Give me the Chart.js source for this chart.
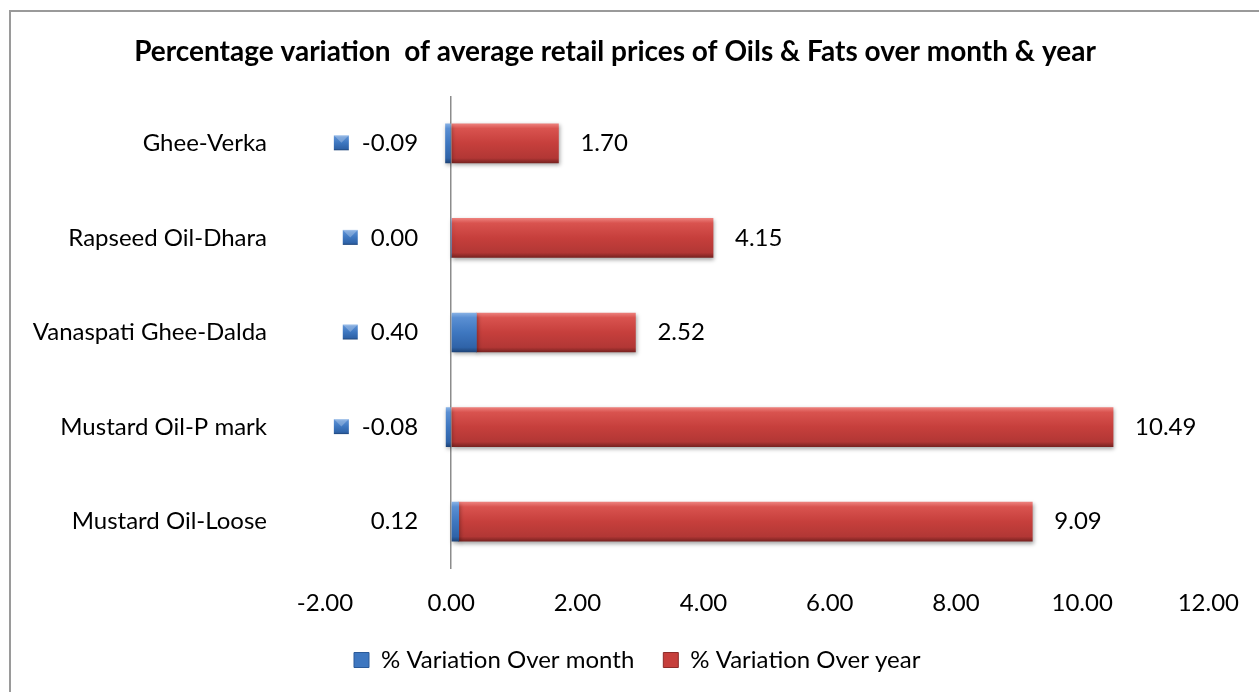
<!DOCTYPE html>
<html><head><meta charset="utf-8">
<script src="https://cdn.jsdelivr.net/npm/chart.js@4.4.1/dist/chart.umd.min.js"></script>
<style>
html,body{margin:0;padding:0;background:#fff;overflow:hidden}
#wrap{position:relative;width:1259px;height:692px}
#frame{position:absolute;left:9px;top:10px;width:1300px;height:800px;border-top:2px solid #9a9a9a;border-left:2px solid #9a9a9a}
canvas{position:absolute;left:0;top:0}
</style></head><body>
<div id="wrap"><div id="frame"></div><canvas id="c" width="1259" height="692"></canvas></div>
<script>
// ---- data ----
const categories = ['Ghee-Verka', 'Rapseed Oil-Dhara', 'Vanaspati Ghee-Dalda', 'Mustard Oil-P mark', 'Mustard Oil-Loose'];
const monthVariation = [-0.09, 0.00, 0.40, -0.08, 0.12];
const yearVariation = [1.70, 4.15, 2.52, 10.49, 9.09];
const seriesNames = ['% Variation Over month', '% Variation Over year'];
const axisMin = -2, axisMax = 12, axisStep = 2;
const titleText = 'Percentage variation  of average retail prices of Oils & Fats over month & year';

// ---- styles ----
const FONT = 'Lato';
const blueStops = [[0,'#86B0E4'],[0.12,'#5A8FD3'],[0.5,'#3E77C0'],[0.88,'#2F63A8'],[1,'#1E4478']];
const redStops = [[0,'#EC7F7B'],[0.12,'#D9534F'],[0.5,'#C63F3C'],[0.88,'#B23735'],[1,'#7A2321']];
const showMonthKey = [true, true, true, true, false];
const BAR_H = 39;

function barGradient(stops, flat){
  return function(ctx){
    const chart = ctx.chart;
    if (ctx.type !== 'data' || !chart.chartArea || !chart.scales.y) return flat;
    const yc = chart.scales.y.getPixelForValue(ctx.dataIndex);
    const g = chart.ctx.createLinearGradient(0, yc - BAR_H/2, 0, yc + BAR_H/2);
    stops.forEach(s => g.addColorStop(s[0], s[1]));
    return g;
  };
}

function drawKey(ctx, x, y, stops){
  const g = ctx.createLinearGradient(0, y, 0, y + 15);
  stops.forEach(s => g.addColorStop(s[0], s[1]));
  ctx.fillStyle = g;
  ctx.fillRect(x, y, 15, 15);
  ctx.fillStyle = 'rgba(255,255,255,0.25)';
  ctx.beginPath(); ctx.moveTo(x, y); ctx.lineTo(x + 15, y); ctx.lineTo(x + 7.5, y + 7.5); ctx.closePath(); ctx.fill();
}

const shadowPlugin = {
  id: 'barShadow',
  beforeDatasetsDraw(chart){
    const c = chart.ctx; c.save();
    c.shadowColor = 'rgba(0,0,0,0.35)'; c.shadowBlur = 4; c.shadowOffsetX = 1; c.shadowOffsetY = 2;
  },
  afterDatasetsDraw(chart){ chart.ctx.restore(); }
};

const labelPlugin = {
  id: 'valueLabels',
  afterDraw(chart){
    const c = chart.ctx, xs = chart.scales.x, ys = chart.scales.y;
    c.save();
    // title
    c.font = 'bold 28px ' + FONT; c.fillStyle = '#000'; c.textAlign = 'center'; c.textBaseline = 'middle';
    c.fillText(titleText, 615, 52);
    c.font = '24px ' + FONT;
    const metaYear = chart.getDatasetMeta(1);
    metaYear.data.forEach((bar, i) => {
      c.textAlign = 'left'; c.fillStyle = '#000';
      c.fillText(yearVariation[i].toFixed(2), bar.x + 22, bar.y);
    });
    monthVariation.forEach((v, i) => {
      const yc = ys.getPixelForValue(i);
      const tx = xs.getPixelForValue(0) - 33;
      const txt = v.toFixed(2);
      c.textAlign = 'right'; c.fillStyle = '#000';
      c.fillText(txt, tx, yc);
      if (showMonthKey[i]) {
        const w = c.measureText(txt).width;
        drawKey(c, tx - w - 13 - 15, yc - 8, blueStops);
      }
    });
    c.restore();
  }
};

new Chart(document.getElementById('c'), {
  type: 'bar',
  data: {
    labels: categories,
    datasets: [
      { label: seriesNames[0], data: monthVariation, backgroundColor: barGradient(blueStops, '#3E77C0'), borderWidth: 0, barThickness: BAR_H },
      { label: seriesNames[1], data: yearVariation, backgroundColor: barGradient(redStops, '#C63F3C'), borderWidth: 0, barThickness: BAR_H }
    ]
  },
  options: {
    indexAxis: 'y',
    responsive: false,
    animation: false,
    devicePixelRatio: 1,
    layout: { padding: { left: 10, right: 50, top: 96, bottom: 10 } },
    scales: {
      x: {
        stacked: true, min: axisMin, max: axisMax,
        border: { display: false },
        grid: {
          drawTicks: false,
          color: ctx => (ctx.tick && ctx.tick.value === 0) ? '#8c8c8c' : 'rgba(0,0,0,0)',
          lineWidth: 1.5
        },
        ticks: { stepSize: axisStep, padding: 20, color: '#000', font: { family: FONT, size: 24 }, callback: v => Number(v).toFixed(2), maxRotation: 0 },
        afterFit: s => { s.height = 50; }
      },
      y: {
        stacked: true,
        border: { display: false },
        grid: { display: false, drawTicks: false },
        ticks: { padding: 58, color: '#000', font: { family: FONT, size: 24 } },
        afterFit: s => { s.width = 315; }
      }
    },
    plugins: {
      title: { display: false },
      tooltip: { enabled: false },
      legend: {
        position: 'bottom',
        fullSize: false,
        align: 'start',
        labels: {
          boxWidth: 15, boxHeight: 15, padding: 29, color: '#000',
          font: { family: FONT, size: 24 },
          generateLabels: chart => chart.data.datasets.map((d, i) => ({
            text: d.label, fillStyle: i === 0 ? '#3E77C0' : '#C63F3C', strokeStyle: i === 0 ? '#2A5A99' : '#8E2C2A', lineWidth: 1, datasetIndex: i, hidden: false
          }))
        }
      }
    }
  },
  plugins: [shadowPlugin, labelPlugin]
});
</script>
</body></html>
